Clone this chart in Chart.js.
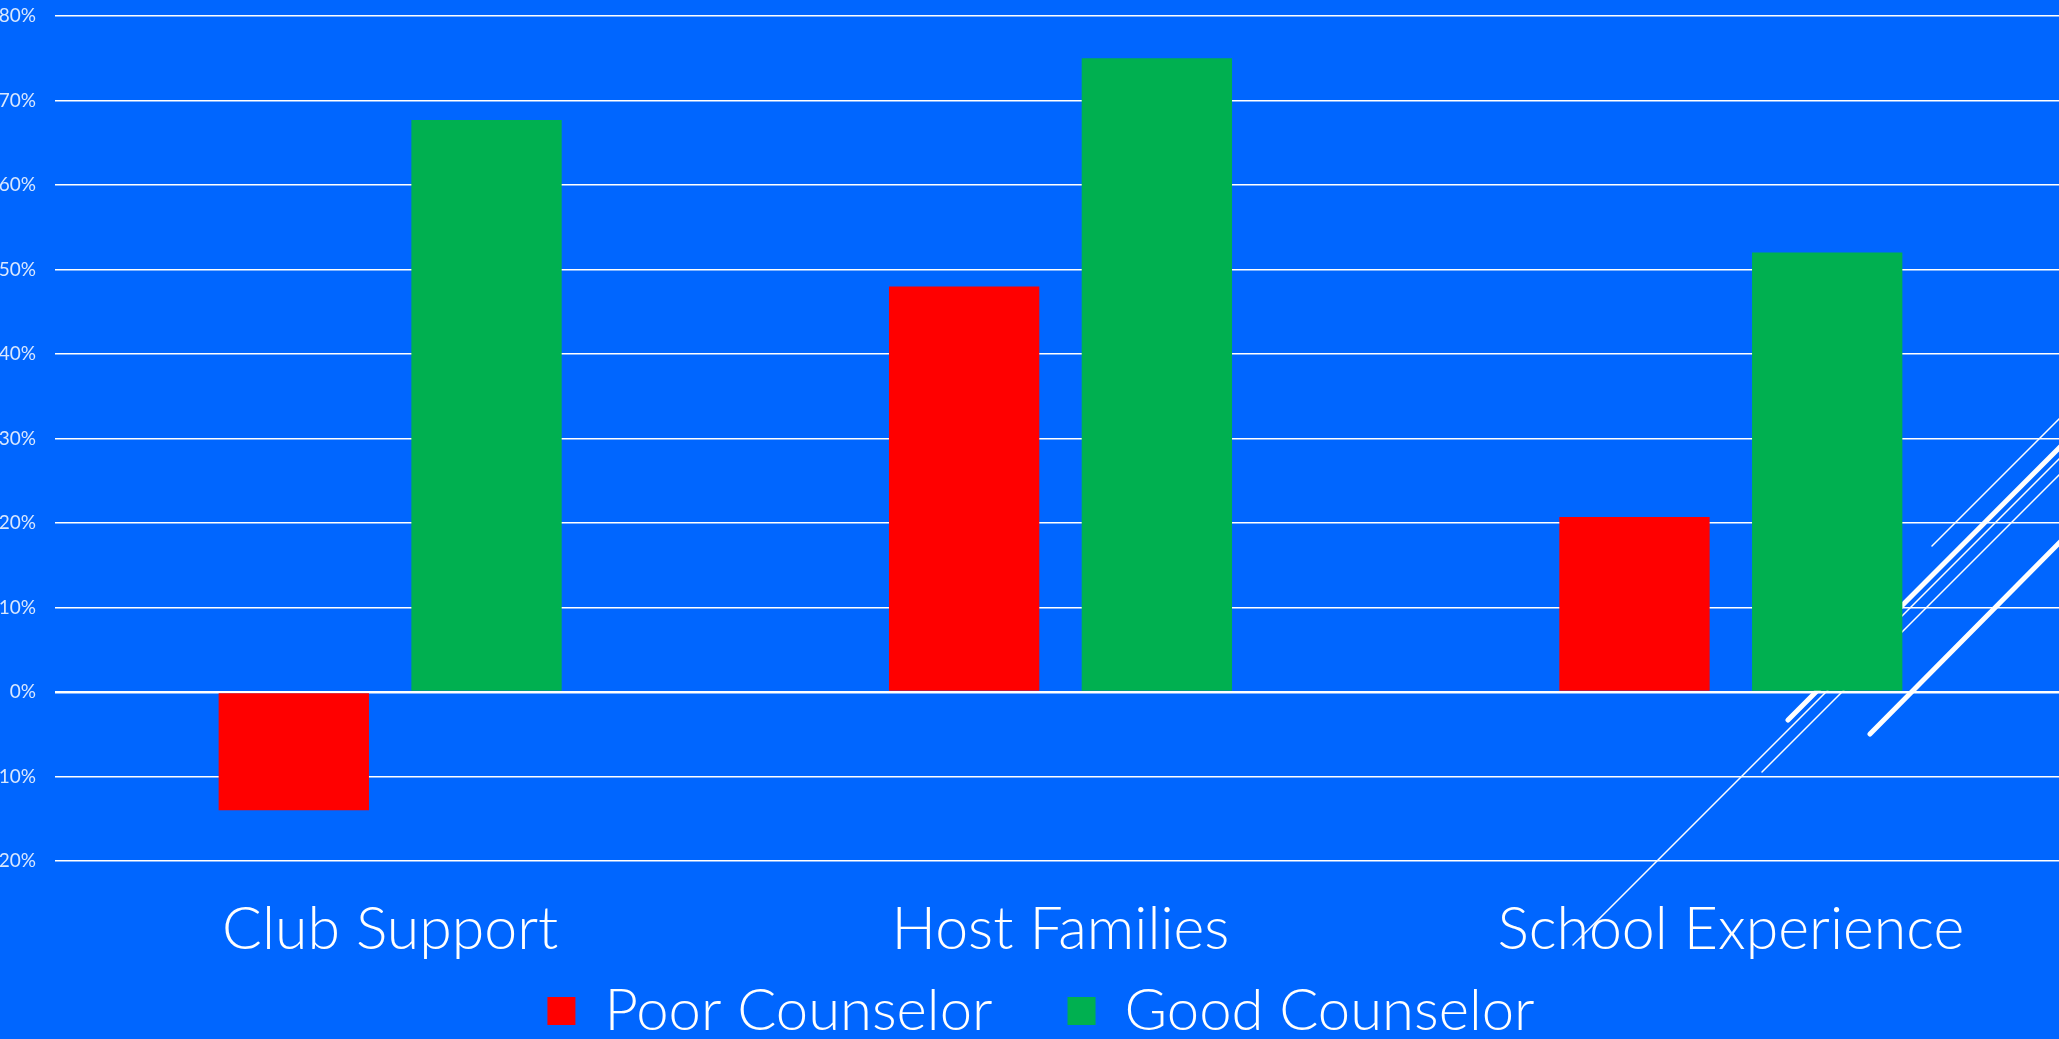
<!DOCTYPE html>
<html>
<head>
<meta charset="utf-8">
<script src="https://cdn.jsdelivr.net/npm/chart.js@4.4.1/dist/chart.umd.min.js"></script>
<style>
  html, body { margin: 0; padding: 0; background: #0066ff; overflow: hidden; }
  /* plot runs a few px past the right edge of the slide, as in the original */
  #wrap { width: 2066px; height: 1039px; }
</style>
</head>
<body>
<div id="wrap"><canvas id="chart"></canvas></div>
<script>
// ── data ─────────────────────────────────────────────────────
const categories = ["Club Support", "Host Families", "School Experience"];
const poorCounselor = [-14, 48, 20.7];
const goodCounselor = [67.7, 75, 52];
const seriesNames = ["Poor Counselor", "Good Counselor"];
const yMin = -20, yMax = 80, yStep = 10;

const FONT = "'Century Gothic', 'Lato', 'Open Sans', sans-serif";
const LEGEND_PAD = 75;       // also the gap between the two legend items
const LEGEND_FONT = 58;
const LEGEND_MID = 1011;     // vertical centre of the legend row
const LEGEND_NUDGE = 8;

// slide decoration: thin/thick diagonal strokes at the bottom right (canvas px)
const decoLines = [
  [1932, 546, 2070, 408, 1.5],
  [1788, 720, 2070, 437, 5],
  [1573, 945, 2070, 448, 1.5],
  [1762, 772, 2070, 464, 1.5],
  [1870, 734, 2070, 532, 5],
];
const decoPlugin = {
  id: "deco",
  beforeDatasetsDraw(chart) {
    const c = chart.ctx;
    c.save();
    c.strokeStyle = "#ffffff";
    c.lineCap = "round";
    decoLines.forEach(([x1, y1, x2, y2, w]) => {
      c.lineWidth = w;
      c.beginPath(); c.moveTo(x1, y1); c.lineTo(x2, y2); c.stroke();
    });
    c.restore();
  },
};

// legend: small block in the layout, row drawn with wide item spacing
const legendFit = {
  id: "legendFit",
  beforeInit(chart) {
    const fit = chart.legend.fit;
    chart.legend.fit = function () { fit.bind(chart.legend)(); this.height = 73; };
  },
  afterLayout(chart) {
    const lg = chart.legend;
    lg.top = LEGEND_MID - LEGEND_PAD - LEGEND_FONT / 2;
    lg.left += LEGEND_NUDGE; lg.right += LEGEND_NUDGE;
  },
};

Chart.defaults.font.family = FONT;

new Chart(document.getElementById("chart"), {
  type: "bar",
  data: {
    labels: categories,
    datasets: [
      { label: seriesNames[0], data: poorCounselor, backgroundColor: "#ff0000" },
      { label: seriesNames[1], data: goodCounselor, backgroundColor: "#00b050" },
    ],
  },
  options: {
    responsive: true,
    maintainAspectRatio: false,
    animation: false,
    categoryPercentage: 0.575,
    barPercentage: 0.78,
    layout: { padding: 0 },
    plugins: {
      legend: {
        position: "bottom",
        labels: {
          color: "#ffffff",
          font: { size: LEGEND_FONT, weight: "300" },
          boxWidth: 28, boxHeight: 28, padding: LEGEND_PAD,
        },
      },
      tooltip: { enabled: false },
    },
    scales: {
      x: {
        grid: { display: false, drawTicks: false },
        border: { display: false },
        ticks: { color: "#ffffff", font: { size: 59, weight: "300" }, padding: 34 },
        afterFit: (s) => { s.height = 105; s.paddingLeft = 0; s.paddingRight = 0; },
      },
      y: {
        min: yMin, max: yMax,
        grid: {
          color: "#ffffff",
          lineWidth: (ctx) => (ctx.tick && ctx.tick.value === 0 ? 2.5 : 1.5),
          drawTicks: false,
        },
        border: { display: false },
        ticks: {
          stepSize: yStep,
          color: "rgba(255,255,255,0.85)",
          font: { size: 19 },
          padding: 19,
          callback: (v) => Math.abs(v) + "%",
        },
        afterFit: (s) => { s.width = 55; s.paddingTop = 16; s.paddingBottom = 0; },
      },
    },
  },
  plugins: [decoPlugin, legendFit],
});
</script>
</body>
</html>
